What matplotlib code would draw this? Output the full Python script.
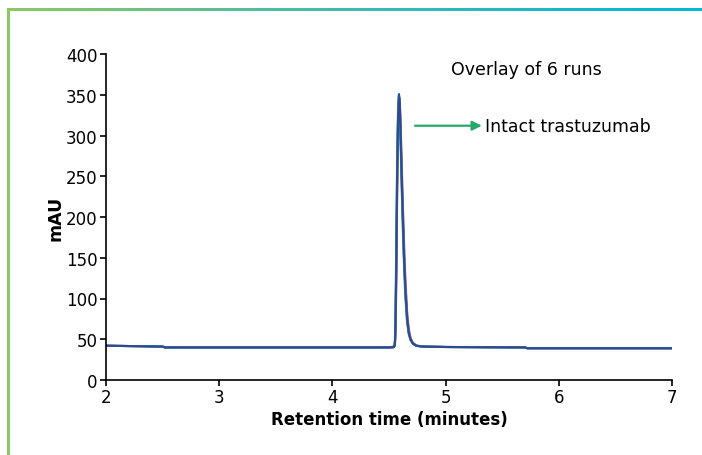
import numpy as np
import matplotlib
matplotlib.use("Agg")
import matplotlib.pyplot as plt
from matplotlib.lines import Line2D

# Retention time grid (minutes) shared by all six injections
time_min = [2.00, 2.30, 2.50, 2.52, 4.50, 4.54, 4.552, 4.558, 4.565, 4.572,
            4.580, 4.588, 4.595, 4.603, 4.612, 4.622, 4.633, 4.645, 4.660,
            4.675, 4.690, 4.710, 4.740, 4.800, 5.000, 5.700, 5.720, 7.000]

# UV absorbance (mAU) for each run
run1 = [42, 41.5, 41, 40, 40, 40.3, 43, 70, 150, 250, 320, 350, 340, 300, 250,
        200, 150, 110, 75, 58, 50, 45, 42, 41, 40.5, 40, 39, 39]
run2 = [42, 41.5, 41, 40, 40, 40.2, 41.5, 55, 120, 220, 300, 345, 346, 315, 270,
        220, 170, 125, 85, 63, 52, 46, 42.5, 41, 40.5, 40, 39, 39]
run3 = [42, 41.5, 41, 40, 40, 41, 48, 90, 180, 275, 335, 348, 332, 285, 235,
        185, 138, 100, 70, 56, 49, 44.5, 42, 41, 40.5, 40, 39, 39]
run4 = [42, 41.5, 41, 40, 40, 40.5, 45, 80, 165, 262, 328, 349, 336, 292, 242,
        192, 144, 105, 72, 57, 49.5, 44.8, 42, 41, 40.5, 40, 39, 39]
run5 = [42, 41.5, 41, 40, 40, 40.2, 42, 62, 135, 235, 310, 347, 343, 308, 260,
        210, 160, 118, 80, 60, 51, 45.5, 42.2, 41, 40.5, 40, 39, 39]
run6 = [42, 41.5, 41, 40, 40, 40.3, 43.5, 72, 155, 255, 322, 351, 339, 298, 248,
        198, 148, 108, 74, 57.5, 50, 45, 42, 41, 40.5, 40, 39, 39]

runs = [run2, run3, run5, run4, run6, run1]
run_colors = ["#e070b0", "#3fae8f", "#7a5fa8", "#6fb4dc", "#3a72b5", "#2f4c8a"]

x_ticks = [2, 3, 4, 5, 6, 7]
y_ticks = [0, 50, 100, 150, 200, 250, 300, 350, 400]

fig = plt.figure(figsize=(7.02, 4.56), dpi=100)
fig.patch.set_facecolor("white")

# Decorative frame: green left rule and green-to-cyan top rule
fig.add_artist(Line2D([8 / 702, 8 / 702], [0, 1 - 10 / 456],
                      transform=fig.transFigure, color="#8cc864", lw=2.2,
                      solid_capstyle="butt"))
grad_ax = fig.add_axes([7 / 702, 1 - 11.5 / 456, 1 - 7 / 702, 2.5 / 456])
grad = np.linspace(0, 1, 256).reshape(1, -1)
cmap = matplotlib.colors.LinearSegmentedColormap.from_list(
    "frame", ["#8cc864", "#3dbab0", "#00b8dc"])
grad_ax.imshow(grad, aspect="auto", cmap=cmap, extent=[0, 1, 0, 1])
grad_ax.set_axis_off()

ax = fig.add_axes([106 / 702, 1 - 381 / 456, (672 - 106) / 702, (381 - 55) / 456])
for vals, c in zip(runs, run_colors):
    ax.plot(time_min, vals, color=c, lw=1.5, solid_joinstyle="round")

ax.set_xlim(2, 7)
ax.set_ylim(0, 400)
ax.set_xticks(x_ticks)
ax.set_yticks(y_ticks)
ax.spines["top"].set_visible(False)
ax.spines["right"].set_visible(False)
for s in ("left", "bottom"):
    ax.spines[s].set_linewidth(1.2)
    ax.spines[s].set_color("black")
ax.tick_params(direction="out", length=4, width=1.2, labelsize=12, pad=2)
ax.set_xlabel("Retention time (minutes)", fontsize=12, fontweight="bold", labelpad=3)
ax.set_ylabel("mAU", fontsize=12.5, fontweight="bold", labelpad=1)

ax.text(5.05, 382, "Overlay of 6 runs", fontsize=12.5, va="center", ha="left")
ax.annotate("", xy=(5.32, 312), xytext=(4.73, 312),
            arrowprops=dict(arrowstyle="-|>", color="#25a86a", lw=1.6,
                            mutation_scale=14, shrinkA=0, shrinkB=0))
ax.text(5.35, 312, "Intact trastuzumab", fontsize=12.5, va="center", ha="left")

fig.savefig("out.png", dpi=100, facecolor="white")
